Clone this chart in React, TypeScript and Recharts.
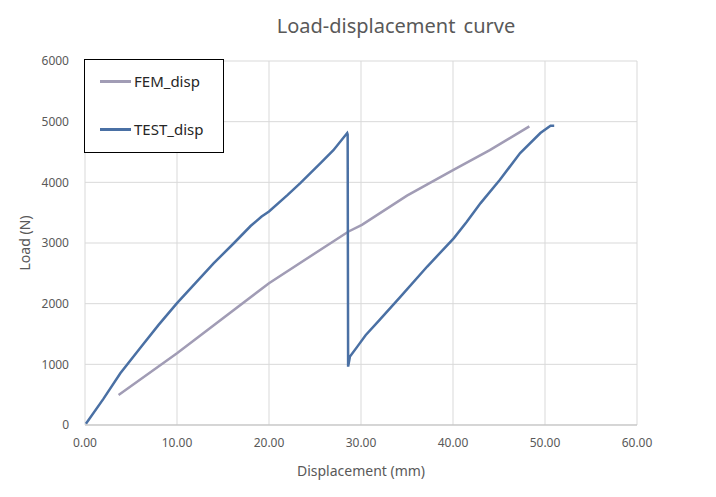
import React from 'react'
import { LineChart, Line, XAxis, YAxis, CartesianGrid } from 'recharts'

const xTicks = [0, 10, 20, 30, 40, 50, 60]
const yTicks = [0, 1000, 2000, 3000, 4000, 5000, 6000]

const femDisp = [3.65, 10, 20, 28.65, 30.1, 35, 40.1, 44, 48.3]
const femLoad = [495, 1183, 2338, 3190, 3300, 3780, 4208, 4530, 4923]

const testDisp = [
  0.1, 2, 3.84, 6, 8, 10, 12, 14, 16.2, 18, 19.2, 20, 22, 23.4, 25.6, 27, 28.5, 28.55, 28.6,
  28.8, 29.6, 30.5, 32, 34.3, 37.2, 40.1, 41.5, 43, 45.1, 47.3, 49.5, 50.6, 51.0,
]
const testLoad = [
  20, 430, 853, 1270, 1650, 2008, 2340, 2668, 3000, 3280, 3437, 3520, 3790, 3988, 4318, 4530, 4813, 4790, 962,
  1127, 1292, 1480, 1730, 2117, 2612, 3080, 3350, 3658, 4043, 4483, 4813, 4934, 4934,
]

const femData = femDisp.map((x, i) => ({ x, y: femLoad[i] }))
const testData = testDisp.map((x, i) => ({ x, y: testLoad[i] }))

const FEM_COLOR = '#a19cb5'
const TEST_COLOR = '#4a70a4'
const FONT = '"Noto Sans", "Open Sans", sans-serif'

function LegendBox() {
  const items = [
    { name: 'FEM_disp', color: FEM_COLOR },
    { name: 'TEST_disp', color: TEST_COLOR },
  ]
  return (
    <div
      style={{
        position: 'absolute',
        left: 76,
        top: 51,
        width: 138,
        height: 92,
        border: '1px solid #000',
        background: '#fff',
        fontFamily: FONT,
        fontSize: 15,
        color: '#262626',
        zIndex: 2,
      }}
    >
      {items.map((it, i) => (
        <div
          key={it.name}
          style={{ position: 'absolute', left: 15, top: 11 + i * 48, display: 'flex', alignItems: 'center' }}
        >
          <span style={{ width: 31, height: 3, background: it.color, display: 'inline-block', marginRight: 3 }} />
          <span>{it.name}</span>
        </div>
      ))}
    </div>
  )
}

export default function App() {
  return (
    <div style={{ position: 'relative', width: 700, height: 481, fontFamily: FONT }}>
      <div
        style={{
          position: 'absolute',
          left: 0,
          width: 776,
          top: 4,
          textAlign: 'center',
          fontSize: 20,
          color: '#595959',
          wordSpacing: 3,
        }}
      >
        Load-displacement curve
      </div>
      <LegendBox />
      <LineChart width={700} height={481} margin={{ top: 53, right: 71, bottom: 0, left: 17 }}>
        <CartesianGrid stroke="#d9d9d9" />
        <XAxis
          type="number"
          dataKey="x"
          domain={[0, 60]}
          ticks={xTicks}
          tickFormatter={(v: number) => v.toFixed(2)}
          tickLine={false}
          tickSize={6}
          tickMargin={7}
          axisLine={{ stroke: '#bfbfbf' }}
          tick={{ fill: '#595959', fontSize: 12 }}
          height={64}
          allowDuplicatedCategory={false}
          label={{ value: 'Displacement (mm)', position: 'insideBottom', offset: 13, fill: '#595959', fontSize: 14 }}
        />
        <YAxis
          type="number"
          dataKey="y"
          domain={[0, 6000]}
          ticks={yTicks}
          tickLine={false}
          axisLine={false}
          tickSize={6}
          tickMargin={10}
          width={60}
          tick={{ fill: '#595959', fontSize: 12 }}
          label={{
            value: 'Load (N)',
            angle: -90,
            position: 'insideLeft',
            offset: 0,
            fill: '#595959',
            fontSize: 14,
            style: { textAnchor: 'middle' },
          }}
        />
        <Line
          data={femData}
          dataKey="y"
          name="FEM_disp"
          stroke={FEM_COLOR}
          strokeWidth={2.5}
          dot={false}
          isAnimationActive={false}
        />
        <Line
          data={testData}
          dataKey="y"
          name="TEST_disp"
          stroke={TEST_COLOR}
          strokeWidth={2.5}
          dot={false}
          isAnimationActive={false}
        />
      </LineChart>
    </div>
  )
}
